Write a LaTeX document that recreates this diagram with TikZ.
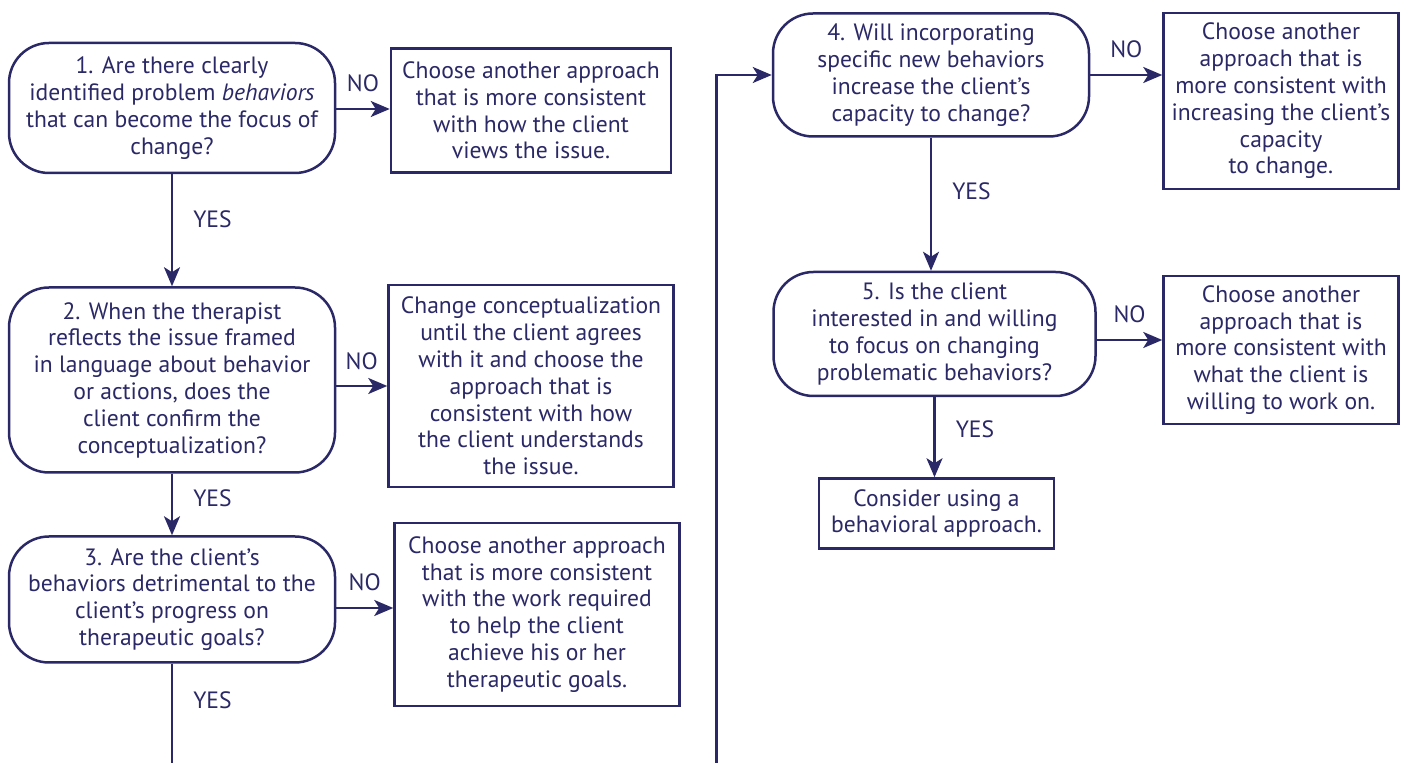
\documentclass[tikz,border=0pt]{standalone}
\usepackage{fontspec}
\setmainfont{PT Sans}
\usetikzlibrary{arrows.meta,calc,positioning}
\definecolor{FlowClr}{RGB}{42,40,102}

\tikzset{
  qbox/.style={draw=FlowClr,line width=1.25pt,rounded corners=20pt,align=center,inner sep=0pt,text=FlowClr},
  nbox/.style={draw=FlowClr,line width=1.25pt,align=center,inner sep=0pt,text=FlowClr},
  flow/.style={draw=FlowClr,line width=1.25pt,-{Stealth[length=9.5pt,width=8pt,inset=2.5pt]}},
  lbl/.style={inner sep=0pt,text=FlowClr},
}

\begin{document}
\begin{tikzpicture}[x=0.5pt,y=-0.5pt,font=\fontsize{11.8}{13.4}\selectfont]
\useasboundingbox (0,0) rectangle (1403,763);

% question boxes
\node[qbox,minimum width=163pt,minimum height=65pt] (Q1) at (172,108)
  {1. Are there clearly\\identified problem \textit{behaviors}\\that can become the focus of\\change?};
\node[qbox,minimum width=163pt,minimum height=92.5pt] (Q2) at (172,380)
  {2. When the therapist\\reflects the issue framed\\in language about behavior\\or actions, does the\\client confirm the\\conceptualization?};
\node[qbox,minimum width=163pt,minimum height=63pt] (Q3) at (172,599.5)
  {3. Are the client’s\\behaviors detrimental to the\\client’s progress on\\therapeutic goals?};
\node[qbox,minimum width=158pt,minimum height=61.5pt] (Q4) at (931,75)
  {4. Will incorporating\\specific new behaviors\\increase the client’s\\capacity to change?};
\node[qbox,minimum width=161pt,minimum height=62pt] (Q5) at (934.5,334)
  {5. Is the client\\interested in and willing\\to focus on changing\\problematic behaviors?};

% no boxes
\node[nbox,minimum width=140pt,minimum height=62pt] (N1) at (531,110.5)
  {Choose another approach\\that is more consistent\\with how the client\\views the issue.};
\node[nbox,minimum width=142.5pt,minimum height=101pt] (N2) at (531,386)
  {Change conceptualization\\until the client agrees\\with it and choose the\\approach that is\\consistent with how\\the client understands\\the issue.};
\node[nbox,minimum width=142.5pt,minimum height=91.5pt] (N3) at (537,614.5)
  {Choose another approach\\that is more consistent\\with the work required\\to help the client\\achieve his or her\\therapeutic goals.};
\node[nbox,minimum width=117.5pt,minimum height=88pt] (N4) at (1281,101)
  {Choose another\\approach that is\\more consistent with\\increasing the client’s\\capacity\\to change.};
\node[nbox,minimum width=117.5pt,minimum height=74pt] (N5) at (1281,350)
  {Choose another\\approach that is\\more consistent with\\what the client is\\willing to work on.};
\node[nbox,minimum width=117.5pt,minimum height=35pt] (E) at (936.5,513.5)
  {Consider using a\\behavioral approach.};

% no arrows
\coordinate (a1) at ($(Q1.east)+(0,1)$);
\coordinate (a2) at ($(Q2.east)+(0,6)$);
\coordinate (a3) at ($(Q3.east)+(0,8.5)$);
\coordinate (a4) at (Q4.east);
\coordinate (a5) at ($(Q5.east)+(0,6)$);
\draw[flow] (a1) -- (a1 -| N1.west) node[lbl,midway,yshift=13pt]{NO};
\draw[flow] (a2) -- (a2 -| N2.west) node[lbl,midway,yshift=12.5pt]{NO};
\draw[flow] (a3) -- (a3 -| N3.west) node[lbl,midway,yshift=13pt]{NO};
\draw[flow] (a4) -- (a4 -| N4.west) node[lbl,midway,yshift=13pt]{NO};
\draw[flow] (a5) -- (a5 -| N5.west) node[lbl,midway,yshift=13pt]{NO};

% yes arrows
\draw[flow] (Q1.south) -- (Q2.north) node[lbl,pos=.4,right=10pt]{YES};
\draw[flow] (Q2.south) -- (Q3.north) node[lbl,pos=.4,right=10pt]{YES};
\draw[flow] (Q4.south) -- (Q4.south |- Q5.north) node[lbl,pos=.4,right=10pt]{YES};
\draw[flow] (Q5.south) -- (Q5.south |- E.north) node[lbl,pos=.4,right=10pt]{YES};

% jump to next column
\coordinate (b1) at (Q3.south |- 0,763);
\coordinate (b2) at (716.5,763);
\draw[FlowClr,line width=1.25pt] (Q3.south) -- (b1) node[lbl,pos=.37,right=10pt]{YES};
\draw[flow] (b2) |- (Q4.west);

\end{tikzpicture}
\end{document}
